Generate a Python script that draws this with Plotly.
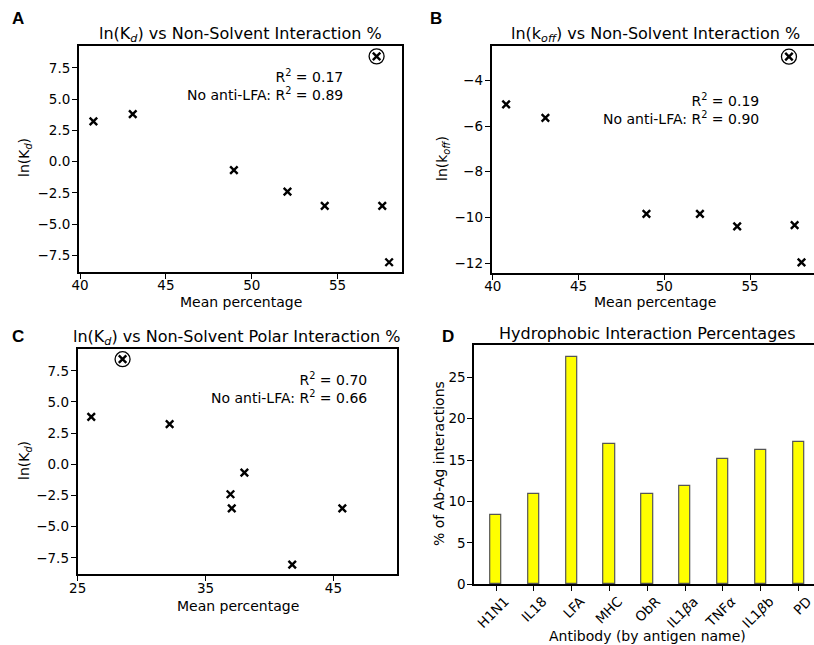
import plotly.graph_objects as go

W, H = 814, 645

# ---------------- data ----------------
mean_pct = [40.78, 43.07, 48.96, 52.08, 54.25, 57.60, 58.00]
ln_kd = [3.23, 3.80, -0.67, -2.40, -3.53, -3.53, -8.05]
ln_koff = [-5.05, -5.64, -9.84, -9.84, -10.39, -10.34, -11.97]
polar_pct = [32.19, 26.06, 38.04, 36.95, 37.05, 45.70, 41.78]

# anti-LFA outlier (circled)
lfa_mean_pct = [57.27]
lfa_ln_kd = [8.43]
lfa_ln_koff = [-2.96]
lfa_polar_pct = [28.51]

r2_texts = {
    "A": ("0.17", "0.89"),
    "B": ("0.19", "0.90"),
    "C": ("0.70", "0.66"),
}

antigens = ["H1N1", "IL18", "LFA", "MHC", "ObR", "IL1<i>β</i>a", "TNF<i>α</i>", "IL1<i>β</i>b", "PD"]
hydrophobic_pct = [8.41, 10.88, 27.5, 16.95, 10.91, 11.85, 15.18, 16.18, 17.2]

FONT = "DejaVu Sans"


def fx(x):
    return x / W


def fy(y):
    return 1 - y / H


fig = go.Figure()

x_marker = dict(symbol="x-thin", size=7.5, color="black", line=dict(width=2.4, color="black"))
circ_marker = dict(symbol="circle-open", size=15, color="black", line=dict(width=1.3, color="black"))

panels = [
    ("x", "y", mean_pct, ln_kd, lfa_mean_pct, lfa_ln_kd),
    ("x2", "y2", mean_pct, ln_koff, lfa_mean_pct, lfa_ln_koff),
    ("x3", "y3", polar_pct, ln_kd, lfa_polar_pct, lfa_ln_kd),
]
for xa, ya, xs, ys, ox, oy in panels:
    fig.add_trace(go.Scatter(x=xs + ox, y=ys + oy, mode="markers", marker=x_marker,
                             xaxis=xa, yaxis=ya, showlegend=False, hoverinfo="skip"))
    fig.add_trace(go.Scatter(x=ox, y=oy, mode="markers", marker=circ_marker,
                             xaxis=xa, yaxis=ya, showlegend=False, hoverinfo="skip"))

fig.add_trace(go.Bar(x=list(range(len(antigens))), y=hydrophobic_pct, width=0.3,
                     marker=dict(color="#FFFF00", line=dict(color="#555555", width=1.2)),
                     xaxis="x4", yaxis="y4", showlegend=False, hoverinfo="skip"))

tickfont = dict(family=FONT, size=13.5, color="black")
common = dict(showline=True, linewidth=2, linecolor="black", ticks="outside", ticklen=5,
              tickwidth=1.2, tickcolor="black", showgrid=False, zeroline=False,
              tickfont=tickfont, automargin=False, ticklabeloverflow="allow")
xc = dict(common, ticklabelstandoff=-5)
yc = dict(common, ticklabelstandoff=-1)
dc = dict(common, ticklabelstandoff=-3, ticklabelshift=9)

fig.update_layout(
    xaxis=dict(domain=[fx(79), fx(402)], range=[39.94, 58.75], anchor="y", mirror=True,
               tickvals=[40, 45, 50, 55], **xc),
    yaxis=dict(domain=[fy(272), fy(46)], range=[-8.83, 9.26], anchor="x", mirror=True,
               tickvals=[-7.5, -5, -2.5, 0, 2.5, 5, 7.5], tickformat=".1f", **yc),
    xaxis2=dict(domain=[fx(491.7), 1], range=[39.94, 58.73], anchor="y2", mirror=True,
                tickvals=[40, 45, 50, 55], **xc),
    yaxis2=dict(domain=[fy(272.7), fy(45.7)], range=[-12.42, -2.48], anchor="x2", mirror=False,
                tickvals=[-12, -10, -8, -6, -4], **yc),
    xaxis3=dict(domain=[fx(77.7), fx(397.3)], range=[25, 50], anchor="y3", mirror=True,
                tickvals=[25, 35, 45], **xc),
    yaxis3=dict(domain=[fy(574.3), fy(349)], range=[-8.82, 9.25], anchor="x3", mirror=True,
                tickvals=[-7.5, -5, -2.5, 0, 2.5, 5, 7.5], tickformat=".1f", **yc),
    xaxis4=dict(domain=[fx(474.3), 1], range=[-0.574, 8.41], anchor="y4", mirror=True,
                tickvals=list(range(len(antigens))), ticktext=antigens, tickangle=-45, **dc),
    yaxis4=dict(domain=[fy(584.3), fy(345)], range=[0, 28.9], anchor="x4", mirror=False,
                tickvals=[0, 5, 10, 15, 20, 25], **yc),
)

ann = []


def text(x, y, s, size=14, xanchor="center", yanchor="middle", angle=0, align="center",
         family=FONT, bold=False):
    if bold:
        s = "<b>" + s + "</b>"
    ann.append(dict(x=fx(x), y=fy(y), xref="paper", yref="paper", text=s, showarrow=False,
                    xanchor=xanchor, yanchor=yanchor, textangle=angle, align=align,
                    font=dict(family=family, size=size, color="black")))


# titles
text(240.5, 47, "ln(K<sub><i>d</i></sub>) vs Non-Solvent Interaction %", size=16, yanchor="bottom")
text(655, 47, "ln(k<sub><i>off</i></sub>) vs Non-Solvent Interaction %", size=16, yanchor="bottom")
text(236, 350, "ln(K<sub><i>d</i></sub>) vs Non-Solvent Polar Interaction %", size=16, yanchor="bottom")
text(647, 345, "Hydrophobic Interaction Percentages", size=16, yanchor="bottom")

# axis labels
text(240.5, 302, "Mean percentage")
text(655, 302, "Mean percentage")
text(237.5, 606, "Mean percentage")
text(647, 636, "Antibody (by antigen name)")
text(25, 158, "ln(K<sub><i>d</i></sub>)", angle=-90)
text(443, 159, "ln(k<sub><i>off</i></sub>)", angle=-90)
text(25, 461, "ln(K<sub><i>d</i></sub>)", angle=-90)
text(439, 464, "% of Ab-Ag interactions", angle=-90)

# R^2 annotations
for key, (xr, ycen) in {"A": (344.5, 85), "B": (761, 109), "C": (369, 388)}.items():
    r, r_no = r2_texts[key]
    text(xr, ycen, f"R<sup>2</sup> = {r}<br>No anti-LFA: R<sup>2</sup> = {r_no}",
         xanchor="right", align="right")

# panel letters
for lab, (x, y) in {"A": (18, 19), "B": (436, 19), "C": (18, 337), "D": (448, 337)}.items():
    text(x, y, lab, size=17, family="Liberation Sans", bold=True)

fig.update_layout(annotations=ann, width=W, height=H, margin=dict(l=0, r=0, t=0, b=0, pad=0),
                  paper_bgcolor="white", plot_bgcolor="white", bargap=0, autosize=False)

fig.write_html(
    "out.html",
    config={"displayModeBar": False},
    post_script="document.body.style.margin='0';document.body.style.padding='0';"
                "document.body.style.overflow='hidden';"
                "document.documentElement.style.overflow='hidden';",
)
